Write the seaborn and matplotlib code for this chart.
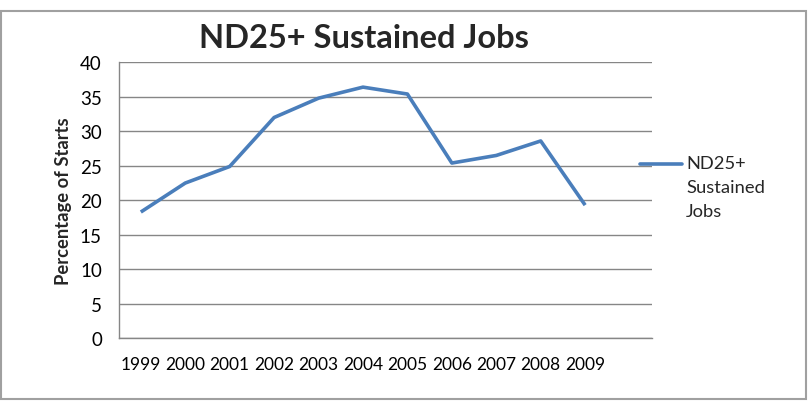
import matplotlib.pyplot as plt
import seaborn as sns
import pandas as pd
from matplotlib.patches import Rectangle

sns.set_theme(style="white")
plt.rcParams['font.family'] = ['Lato', 'DejaVu Sans']

years = ["1999", "2000", "2001", "2002", "2003", "2004",
         "2005", "2006", "2007", "2008", "2009"]
values = [18.3, 22.5, 24.9, 32.0, 34.8, 36.4, 35.4, 25.4, 26.5, 28.6, 19.3]
series_name = "ND25+ Sustained Jobs"

df = pd.DataFrame({"pos": range(len(years)), "val": values})

W, H = 809, 402
fig = plt.figure(figsize=(W / 100, H / 100), dpi=100)
ax = fig.add_axes([118.6 / W, 1 - 339.3 / H, (651.8 - 118.6) / W, (339.3 - 63.3) / H])

grey = "#868686"
sns.lineplot(data=df, x="pos", y="val", ax=ax, color="#4a7ebb", linewidth=2.6,
             solid_capstyle="butt", legend=False)

# 12 category slots, data in first 11
ax.set_xlim(-0.5, 11.5)
ax.set_ylim(0, 40)
ax.set_yticks(range(0, 41, 5))
ax.set_xticks([i - 0.5 for i in range(13)], minor=False)
ax.set_xticklabels([])
ax.set_xticks(range(len(years)), minor=True)
ax.set_xticklabels(years, minor=True)
ax.tick_params(axis="x", which="minor", length=0, pad=13, labelsize=12.5, colors="black")
ax.tick_params(axis="x", which="major", length=6, width=1, color=grey, direction="out")
ax.tick_params(axis="y", length=6, width=1, color=grey, direction="out",
               labelsize=13.5, pad=6, labelcolor="black")
ax.yaxis.grid(True, color=grey, linewidth=1)
ax.xaxis.grid(False)
ax.set_axisbelow(True)
for s in ["top", "right"]:
    ax.spines[s].set_visible(False)
for s in ["left", "bottom"]:
    ax.spines[s].set_color(grey)
    ax.spines[s].set_linewidth(1)

ax.set_xlabel("")
ax.set_ylabel("Percentage of Starts", fontsize=13.2, fontweight="bold", labelpad=6)

fig.text(364 / W, 1 - 38 / H, series_name, ha="center", va="center",
         fontsize=23.5, fontweight="bold")

# legend
fig.add_artist(plt.Line2D([640 / W, 682 / W], [1 - 165 / H, 1 - 165 / H],
                          color="#4a7ebb", linewidth=2.6))
fig.text(686 / W, 1 - 156 / H, "ND25+\nSustained\nJobs", ha="left", va="top",
         fontsize=13.2, linespacing=1.62)

fig.add_artist(Rectangle((1 / W, 1 - 400 / H), 805 / W, 388 / H, fill=False,
                         edgecolor="#a0a0a0", linewidth=1.5, transform=fig.transFigure))

fig.savefig("out.png", dpi=100)
